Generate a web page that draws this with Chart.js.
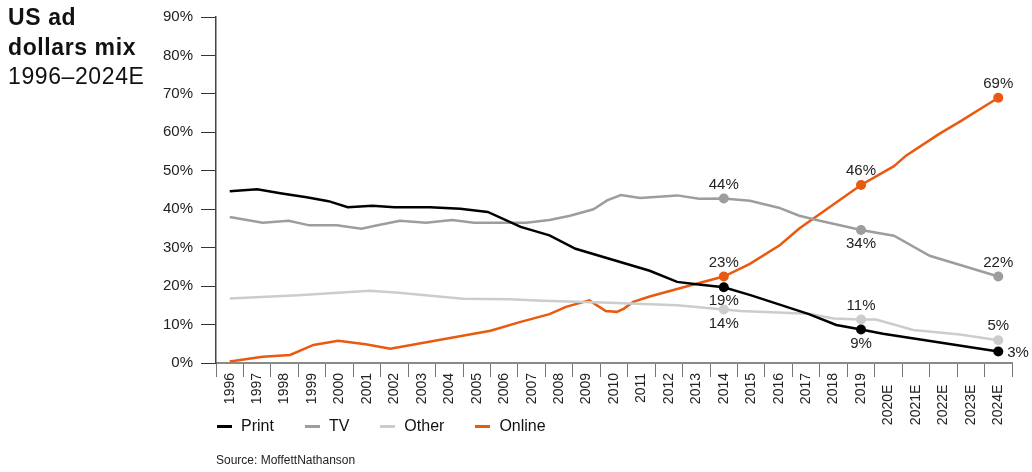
<!DOCTYPE html>
<html>
<head>
<meta charset="utf-8">
<script src="https://cdn.jsdelivr.net/npm/chart.js@4.4.1/dist/chart.umd.min.js"></script>
<style>
  body { margin: 0; background: #fff; font-family: "Liberation Sans", Arial, sans-serif; color: #111; }
  #wrap { position: relative; width: 1032px; height: 472px; overflow: hidden; }
  #mix { position: absolute; left: 0; top: 0; }
  #title { position: absolute; left: 8px; top: 3px; font-size: 23px; line-height: 29.5px; letter-spacing: 0.6px; }
  #title b { font-weight: bold; }
  #legend { position: absolute; left: 217px; top: 416px; display: flex; gap: 31px; font-size: 16px; line-height: 20px; }
  #legend div { display: flex; align-items: center; }
  #legend span { display: inline-block; width: 15px; height: 3px; margin-right: 9px; }
  #source { position: absolute; left: 216px; top: 453px; font-size: 12px; color: #222; }
</style>
</head>
<body>
<div id="wrap">
  <canvas id="mix" width="1032" height="472"></canvas>
  <div id="title"><b>US ad<br>dollars mix</b><br>1996–2024E</div>
  <div id="legend"></div>
  <div id="source">Source: MoffettNathanson</div>
</div>
<script>
// x axis categories
const years = ['1996','1997','1998','1999','2000','2001','2002','2003','2004','2005','2006','2007','2008','2009',
  '2010','2011','2012','2013','2014','2015','2016','2017','2018','2019','2020E','2021E','2022E','2023E','2024E'];
const yTicks = [0, 10, 20, 30, 40, 50, 60, 70, 80, 90];

// share of US ad dollars, % (x in years)
const printX = [1996, 1997, 1997.9, 1998.8, 1999.6, 2000.3, 2001.2, 2002, 2003.3, 2004.4, 2005.4, 2006.6, 2007.65, 2008.6,
  2011.3, 2012.3, 2013, 2014, 2015, 2017.1, 2018.1, 2019, 2019.8, 2024];
const printY = [44.7, 45.2, 44.1, 43.1, 42.1, 40.5, 40.9, 40.5, 40.5, 40.1, 39.3, 35.4, 33.2, 29.7,
  24.0, 21.1, 20.5, 19.7, 17.6, 12.7, 9.9, 8.7, 7.6, 3.0];

const tvX = [1996, 1997.2, 1998.15, 1998.9, 1999.9, 2000.8, 2001.3, 2002.2, 2003.15, 2004.1, 2004.9, 2006.8, 2007.65, 2008.4,
  2009.25, 2009.75, 2010.25, 2010.95, 2012.3, 2013.1, 2014, 2014.95, 2016, 2016.75, 2017.5, 2019, 2020.2, 2021.5, 2024];
const tvY = [38.0, 36.5, 37.0, 35.8, 35.8, 34.9, 35.7, 37.0, 36.5, 37.2, 36.5, 36.5, 37.2, 38.3,
  40.0, 42.3, 43.7, 42.9, 43.6, 42.7, 42.8, 42.2, 40.4, 38.3, 37.0, 34.6, 33.1, 27.9, 22.5];

const otherX = [1996, 1998.5, 2001.1, 2002.15, 2004.5, 2006.2, 2007.4, 2009.85, 2012.3, 2014, 2014.6, 2017.1, 2018, 2019,
  2019.55, 2020.9, 2022.6, 2024];
const otherY = [16.8, 17.6, 18.8, 18.3, 16.7, 16.6, 16.2, 15.7, 15.0, 13.9, 13.5, 12.8, 11.6, 11.3,
  11.3, 8.6, 7.4, 5.9];

const onlineX = [1996, 1997.2, 1998.2, 1999.05, 1999.95, 2000.95, 2001.85, 2005.5, 2006.6, 2007.65, 2008.25, 2009.1, 2009.7,
  2010.1, 2010.35, 2010.7, 2011.3, 2013, 2014, 2014.95, 2016.05, 2016.75, 2019, 2020.2, 2020.65, 2021.85, 2022.6, 2024];
const onlineY = [0.4, 1.6, 2.1, 4.7, 5.8, 4.9, 3.7, 8.4, 10.7, 12.7, 14.6, 16.3, 13.5,
  13.3, 14.1, 15.9, 17.3, 20.6, 22.5, 25.8, 30.7, 35.0, 46.3, 51.2, 54.0, 59.6, 62.8, 69.0];

// marked years and their value labels
const markYears = [2014, 2019, 2024];
const printLabels = ['19%', '9%', '3%'];
const tvLabels = ['44%', '34%', '22%'];
const otherLabels = ['14%', '11%', '5%'];
const onlineLabels = ['23%', '46%', '69%'];

const series = [
  { label: 'Print', xs: printX, ys: printY, marks: printLabels, color: '#000000', place: ['below', 'below', 'right'] },
  { label: 'TV', xs: tvX, ys: tvY, marks: tvLabels, color: '#9d9d9d', place: ['above', 'below', 'above'] },
  { label: 'Other', xs: otherX, ys: otherY, marks: otherLabels, color: '#cccccc', place: ['below', 'above', 'above'] },
  { label: 'Online', xs: onlineX, ys: onlineY, marks: onlineLabels, color: '#e9590f', place: ['above', 'above', 'above'] }
];

const legend = document.getElementById('legend');
series.forEach(s => {
  const item = document.createElement('div');
  item.innerHTML = '<span style="background:' + s.color + '"></span>' + s.label;
  legend.appendChild(item);
});

const pointLabels = {
  id: 'pointLabels',
  afterDatasetsDraw(chart) {
    const ctx = chart.ctx;
    ctx.save();
    ctx.font = '15px "Liberation Sans", Arial, sans-serif';
    ctx.fillStyle = '#222';
    ctx.textBaseline = 'middle';
    chart.data.datasets.forEach((ds, i) => {
      const meta = chart.getDatasetMeta(i);
      meta.data.forEach((pt, j) => {
        const k = markYears.indexOf(ds.data[j].x);
        if (k < 0) return;
        const where = ds.place[k];
        if (where === 'right') {
          ctx.textAlign = 'left';
          ctx.fillText(ds.marks[k], pt.x + 9, pt.y + 1);
        } else {
          ctx.textAlign = 'center';
          ctx.fillText(ds.marks[k], pt.x, pt.y + (where === 'above' ? -14 : 14));
        }
      });
    });
    ctx.restore();
  }
};

new Chart(document.getElementById('mix'), {
  type: 'line',
  data: {
    labels: years,
    datasets: series.map(s => ({
      label: s.label,
      data: s.xs.map((x, i) => ({ x: x, y: s.ys[i] })),
      xAxisID: 'xv',
      borderColor: s.color,
      backgroundColor: s.color,
      borderWidth: 2.5,
      tension: 0,
      pointRadius: c => markYears.includes(c.raw.x) ? 5 : 0,
      pointBorderWidth: 0,
      marks: s.marks,
      place: s.place
    }))
  },
  options: {
    responsive: false,
    animation: false,
    layout: { padding: { left: 150, right: 20, top: 7, bottom: 0 } },
    plugins: { legend: { display: false }, tooltip: { enabled: false } },
    scales: {
      x: {
        type: 'category',
        offset: true,
        grid: { offset: true, drawOnChartArea: false, tickLength: 14, color: '#777' },
        border: { color: '#8a8a8a', width: 2 },
        ticks: {
          minRotation: 90, maxRotation: 90, padding: -4, color: '#222', autoSkip: false,
          font: { size: 14, family: '"Liberation Sans", Arial, sans-serif' },
          callback: function (v) {
            const t = this.getLabelForValue(v);
            return t.endsWith('E') ? t + '   ' : t;
          }
        },
        afterFit: s => { s.height = 109; }
      },
      xv: { type: 'linear', display: false, min: 1995.5, max: 2024.5 },
      y: {
        min: 0, max: 90,
        afterBuildTicks: s => { s.ticks = yTicks.map(v => ({ value: v })); },
        grid: { drawOnChartArea: false, tickLength: 15, color: '#333' },
        border: { color: '#444', width: 1.5 },
        ticks: {
          padding: 8, color: '#222',
          font: { size: 15, family: '"Liberation Sans", Arial, sans-serif' },
          callback: v => v + '%'
        },
        afterFit: s => { s.width = 66; }
      }
    }
  },
  plugins: [pointLabels]
});
</script>
</body>
</html>
